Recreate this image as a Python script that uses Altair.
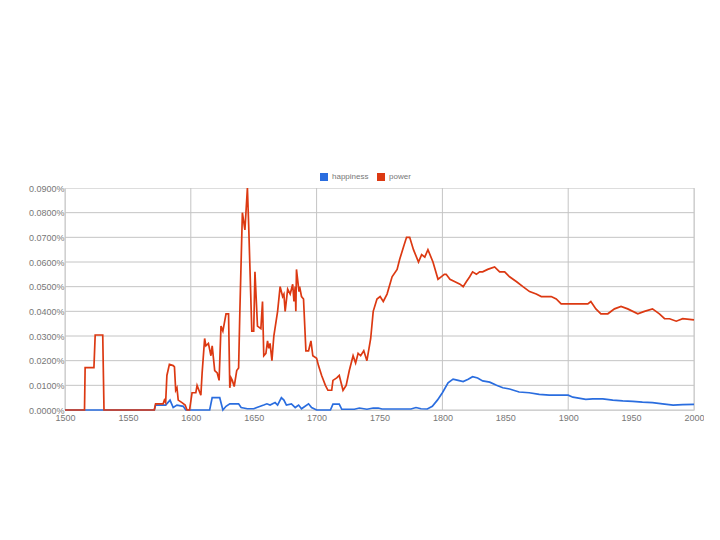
import altair as alt
import pandas as pd

# --- data (values in percent) ---
power_years = [1500, 1515.5, 1516, 1523, 1524, 1530, 1531, 1571, 1572, 1578, 1579, 1580, 1581, 1583,
               1586, 1587, 1588, 1589, 1590, 1593, 1595.5, 1597, 1599, 1601, 1604, 1605, 1608, 1609,
               1611, 1612, 1614, 1616, 1617, 1619, 1621, 1622.5, 1624, 1625.5, 1628, 1630, 1631, 1632,
               1633, 1634.5, 1636.5, 1638, 1639, 1641, 1643, 1645, 1646, 1648.5, 1650, 1651, 1653,
               1655.7, 1657, 1658, 1659.7, 1661, 1662, 1663, 1664.5, 1666, 1669, 1671, 1673, 1674,
               1675, 1677, 1679, 1681, 1682, 1683, 1683.5, 1684, 1686, 1686.5, 1688, 1689.6, 1691.5,
               1693.6, 1695.5, 1697, 1700, 1701.5, 1704, 1707, 1709, 1712, 1713, 1716, 1718, 1721,
               1723.5, 1726, 1729, 1731, 1733, 1735, 1737.5, 1740, 1743, 1745, 1748, 1750.5, 1753,
               1756, 1760, 1764, 1766, 1769, 1771.5, 1774, 1777, 1781, 1783.5, 1786, 1788.5, 1792.5,
               1796.5, 1799, 1801.5, 1803, 1806, 1810, 1814, 1816.5, 1819, 1821.7, 1824, 1827,
               1829.6, 1832, 1836, 1841.5, 1845.5, 1849.5, 1853.4, 1859, 1864, 1869.3, 1874.6,
               1878.6, 1882.5, 1886.5, 1890.5, 1894.4, 1898.4, 1903.7, 1906, 1911.7, 1915.6, 1918,
               1922, 1926, 1931.5, 1936.8, 1942, 1947.3, 1955.3, 1960.6, 1967, 1972.5, 1976.6,
               1980.6, 1985.9, 1991, 2000]
power_vals = [0, 0, 0.0172, 0.0172, 0.0304, 0.0304, 0, 0, 0.0025, 0.0025, 0.004, 0.003, 0.014, 0.0185,
              0.018, 0.0175, 0.008, 0.009, 0.004, 0.003, 0.002, 0, 0, 0.007, 0.007, 0.010, 0.006, 0.015,
              0.029, 0.026, 0.027, 0.022, 0.026, 0.016, 0.015, 0.012, 0.034, 0.032, 0.039, 0.039, 0.009, 0.013,
              0.012, 0.0095, 0.016, 0.017, 0.040, 0.080, 0.073, 0.090, 0.075, 0.032, 0.032, 0.056, 0.034,
              0.033, 0.044, 0.022, 0.023, 0.028, 0.025, 0.027, 0.020, 0.030, 0.040, 0.050, 0.046, 0.047,
              0.040, 0.049, 0.047, 0.051, 0.044, 0.050, 0.040, 0.057, 0.048, 0.050, 0.046, 0.045, 0.024,
              0.024, 0.028, 0.022, 0.021, 0.018, 0.014, 0.010, 0.008, 0.008, 0.012, 0.013, 0.014, 0.008,
              0.010, 0.016, 0.022, 0.019, 0.023, 0.022, 0.024, 0.020, 0.029, 0.040, 0.045, 0.046, 0.044,
              0.047, 0.054, 0.057, 0.061, 0.066, 0.070, 0.070, 0.065, 0.060, 0.063, 0.062, 0.065, 0.060,
              0.053, 0.054, 0.055, 0.055, 0.053, 0.052, 0.051, 0.050, 0.052, 0.054, 0.056, 0.055,
              0.056, 0.056, 0.057, 0.058, 0.056, 0.056, 0.054, 0.052, 0.050, 0.048, 0.047,
              0.046, 0.046, 0.046, 0.045, 0.043, 0.043, 0.043, 0.043, 0.043, 0.043, 0.044,
              0.041, 0.039, 0.039, 0.041, 0.042, 0.041, 0.039, 0.040, 0.041, 0.039, 0.037,
              0.037, 0.036, 0.037, 0.0365]

happy_years = [1500, 1571, 1572, 1580, 1583.5, 1586, 1589, 1594, 1596, 1615, 1617, 1623, 1625.5, 1628,
               1631, 1638, 1640, 1645, 1650, 1652.5, 1658, 1660.5, 1663, 1667, 1669, 1672, 1674, 1676,
               1680, 1683, 1685.7, 1688, 1693.6, 1696, 1700, 1711, 1713, 1718, 1720, 1730, 1734, 1740,
               1745, 1749, 1752, 1775, 1779, 1783, 1788, 1792, 1796, 1800, 1804.5, 1808.5, 1812.5,
               1816.5, 1820.5, 1824, 1828, 1832, 1837.6, 1843, 1848, 1853.4, 1861, 1869, 1877, 1885,
               1893, 1900, 1903.7, 1906, 1914, 1919.5, 1927.5, 1935.4, 1943.4, 1951.3, 1959, 1967,
               1975, 1983.4, 1991, 2000]
happy_vals = [0, 0, 0.002, 0.002, 0.004, 0.001, 0.002, 0.0015, 0, 0, 0.005, 0.005, 0, 0.0015,
              0.0025, 0.0025, 0.001, 0.0005, 0.0005, 0.001, 0.002, 0.0025, 0.002, 0.003, 0.002, 0.005, 0.004, 0.002,
              0.0025, 0.001, 0.002, 0.0005, 0.0025, 0.001, 0, 0, 0.0024, 0.0024, 0.0003, 0.0003, 0.0008, 0.0003,
              0.0008, 0.0008, 0.0004, 0.0004, 0.001, 0.0005, 0.0004, 0.0015, 0.004, 0.007, 0.011, 0.0125, 0.012,
              0.0115, 0.0125, 0.0135, 0.013, 0.0118, 0.0113, 0.010, 0.009, 0.0085, 0.0073, 0.007, 0.0063, 0.006,
              0.006, 0.006, 0.0052, 0.005, 0.0043, 0.0045, 0.0045, 0.004, 0.0037, 0.0035, 0.0032, 0.003,
              0.0025, 0.002, 0.0022, 0.0023]

series_names = ["happiness", "power"]
series_colors = ["#2a6ddf", "#dc3912"]

x_ticks = list(range(1500, 2001, 50))
x_grid = list(range(1500, 2001, 100))
y_ticks = [i / 100 for i in range(0, 10)]
y_grid = [i / 100 for i in range(0, 9)]

# --- tables ---
df = pd.concat([
    pd.DataFrame({"year": happy_years, "value": happy_vals, "series": "happiness", "order": range(len(happy_years))}),
    pd.DataFrame({"year": power_years, "value": power_vals, "series": "power", "order": range(len(power_years))}),
])
vgrid = pd.DataFrame({"year": x_grid})
hgrid = pd.DataFrame({"value": y_grid})

FONT = "Liberation Sans"
xscale = alt.Scale(domain=[1500, 2000], nice=False, zero=False)
yscale = alt.Scale(domain=[0, 0.09], nice=False)
cscale = alt.Scale(domain=series_names, range=series_colors)

xenc = alt.X("year:Q", scale=xscale,
             axis=alt.Axis(values=x_ticks, format="d", title=None, grid=False, ticks=False, domain=False,
                           labelPadding=3, labelFlush=False, labelOverlap=False,
                           labelFontSize=9, labelColor="#777", labelFont=FONT))
yenc = alt.Y("value:Q", scale=yscale,
             axis=alt.Axis(values=y_ticks, labelExpr="format(datum.value, '.4f') + '%'", title=None,
                           grid=False, ticks=False, domain=False, labelPadding=1, labelOverlap=False,
                           labelFlush=False, labelFontSize=9, labelColor="#777", labelFont=FONT))

vrules = alt.Chart(vgrid).mark_rule(color="#c4c4c4", strokeWidth=1).encode(
    x=xenc, y=alt.value(0), y2=alt.value(222)
)
hrules = alt.Chart(hgrid).mark_rule(color="#c4c4c4", strokeWidth=1).encode(
    y=yenc, x=alt.value(0), x2=alt.value(629)
)

lines = alt.Chart(df).mark_line(strokeWidth=1.7, interpolate="linear").encode(
    x=xenc, y=yenc,
    color=alt.Color("series:N", scale=cscale,
                    legend=alt.Legend(title=None, orient="none", direction="horizontal",
                                      legendX=255, legendY=-15, symbolType="square", symbolSize=16,
                                      symbolStrokeWidth=4, labelFontSize=8,
                                      labelColor="#777", labelFont=FONT, labelOffset=4,
                                      columnPadding=2, padding=0)),
    order="order:Q",
)

chart = alt.layer(vrules, hrules, lines).properties(
    width=629, height=222,
    autosize=alt.AutoSizeParams(type="none"),
    padding={"left": 57, "top": 180, "right": 10, "bottom": 100},
).configure_view(stroke=None).configure(background="white")

chart.save("out.html", embed_options={"renderer": "svg", "actions": False})
